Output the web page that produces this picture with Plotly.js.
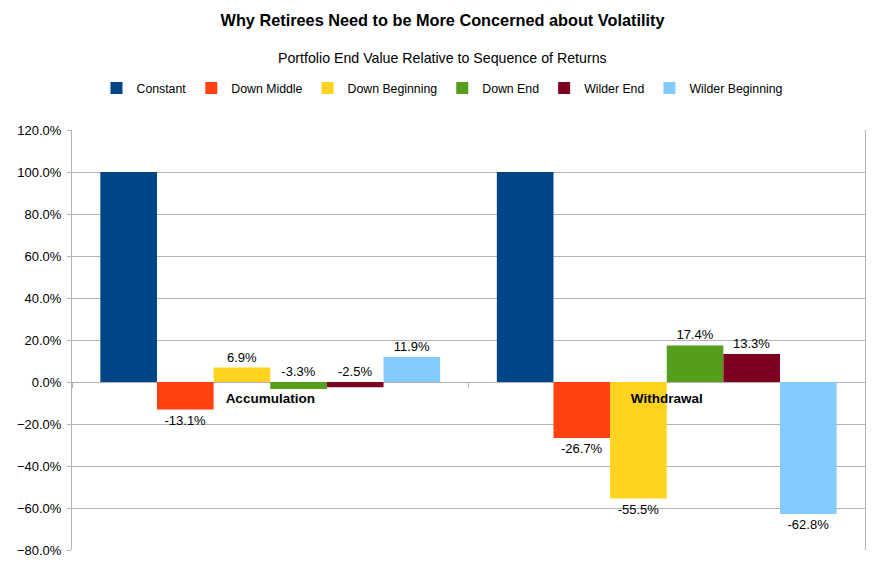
<!DOCTYPE html>
<html>
<head>
<meta charset="utf-8">
<script src="https://cdn.plot.ly/plotly-3.0.1.min.js"></script>
<style>html,body{margin:0;padding:0;background:#fff;}#chart{width:885px;height:580px;}</style>
</head>
<body>
<div id="chart"></div>
<script>
// ---- data ----
const categories = ['Accumulation', 'Withdrawal'];
const seriesNames = ['Constant', 'Down Middle', 'Down Beginning', 'Down End', 'Wilder End', 'Wilder Beginning'];
const constant = [1.0, 1.0];
const downMiddle = [-0.131, -0.267];
const downBeginning = [0.069, -0.555];
const downEnd = [-0.033, 0.174];
const wilderEnd = [-0.025, 0.133];
const wilderBeginning = [0.119, -0.628];
const yTickVals = [-0.8, -0.6, -0.4, -0.2, 0, 0.2, 0.4, 0.6, 0.8, 1.0, 1.2];

// ---- styles ----
const colors = ['#004586', '#ff420e', '#ffd320', '#579d1c', '#7e0021', '#83caff'];
const seriesValues = [constant, downMiddle, downBeginning, downEnd, wilderEnd, wilderBeginning];
const showLabel = [false, true, true, true, true, true];
const labelAboveBase = [false, false, false, true, true, false];
const FONT = 'Liberation Sans, Arial, sans-serif';

const traces = seriesValues.map((vals, i) => {
  const t = {
    type: 'bar',
    name: seriesNames[i],
    x: categories,
    marker: {color: colors[i], line: {width: 0}},
    cliponaxis: false,
    constraintext: 'none',
    outsidetextfont: {family: FONT, size: 13, color: '#000'},
    hoverinfo: 'skip'
  };
  if (labelAboveBase[i]) {
    t.base = vals.map(v => Math.min(v, 0));
    t.y = vals.map(v => Math.abs(v));
    t.customdata = vals;
    t.texttemplate = '%{customdata:.1%}';
  } else {
    t.y = vals;
    t.texttemplate = '%{y:.1%}';
  }
  t.textposition = showLabel[i] ? 'outside' : 'none';
  return t;
});

const centerX = (442.5 - 72) / 793;

const layout = {
  width: 885, height: 580,
  margin: {l: 72, r: 20, t: 130, b: 30, pad: 0, autoexpand: false},
  paper_bgcolor: '#fff', plot_bgcolor: '#fff',
  font: {family: FONT, size: 13, color: '#000'},
  barmode: 'group',
  bargap: 0.143,
  bargroupgap: 0,
  showlegend: true,
  title: {
    text: 'Why Retirees Need to be More Concerned about Volatility',
    font: {family: FONT, size: 16.3, color: '#000', weight: 'bold'},
    x: 0.5, xref: 'container', xanchor: 'center',
    y: 1 - 20 / 580, yref: 'container', yanchor: 'middle'
  },
  annotations: [{
    text: 'Portfolio End Value Relative to Sequence of Returns',
    xref: 'paper', yref: 'paper', x: centerX, y: 1 + (130 - 58) / 420,
    xanchor: 'center', yanchor: 'middle', showarrow: false,
    font: {family: FONT, size: 14.2, color: '#000'}
  }],
  legend: {
    orientation: 'h',
    xref: 'paper', x: centerX, xanchor: 'center',
    yref: 'paper', y: 1 + (130 - 88) / 420, yanchor: 'middle',
    font: {family: FONT, size: 12.3, color: '#000'},
    traceorder: 'normal',
    itemwidth: 30,
    bgcolor: 'rgba(0,0,0,0)'
  },
  xaxis: {
    type: 'category',
    anchor: 'free',
    position: 0.4,
    showgrid: false,
    showline: false,
    zeroline: false,
    ticks: 'outside',
    tickson: 'boundaries',
    ticklen: 5,
    tickcolor: '#b3b3b3',
    ticklabelstandoff: 6,
    tickfont: {family: FONT, size: 13.5, color: '#000', weight: 'bold'},
    automargin: false,
    fixedrange: true
  },
  yaxis: {
    range: [-0.8, 1.2],
    tickvals: yTickVals,
    tickformat: '.1%',
    showgrid: true,
    gridcolor: '#b3b3b3',
    gridwidth: 1,
    zeroline: true,
    zerolinecolor: '#b3b3b3',
    zerolinewidth: 1,
    showline: true,
    linecolor: '#b3b3b3',
    linewidth: 1,
    mirror: true,
    ticks: 'outside',
    ticklen: 4,
    tickcolor: '#b3b3b3',
    ticklabelstandoff: 3,
    tickfont: {family: FONT, size: 13, color: '#000'},
    automargin: false,
    fixedrange: true
  }
};

Plotly.newPlot('chart', traces, layout, {displayModeBar: false, staticPlot: true});
</script>
</body>
</html>
